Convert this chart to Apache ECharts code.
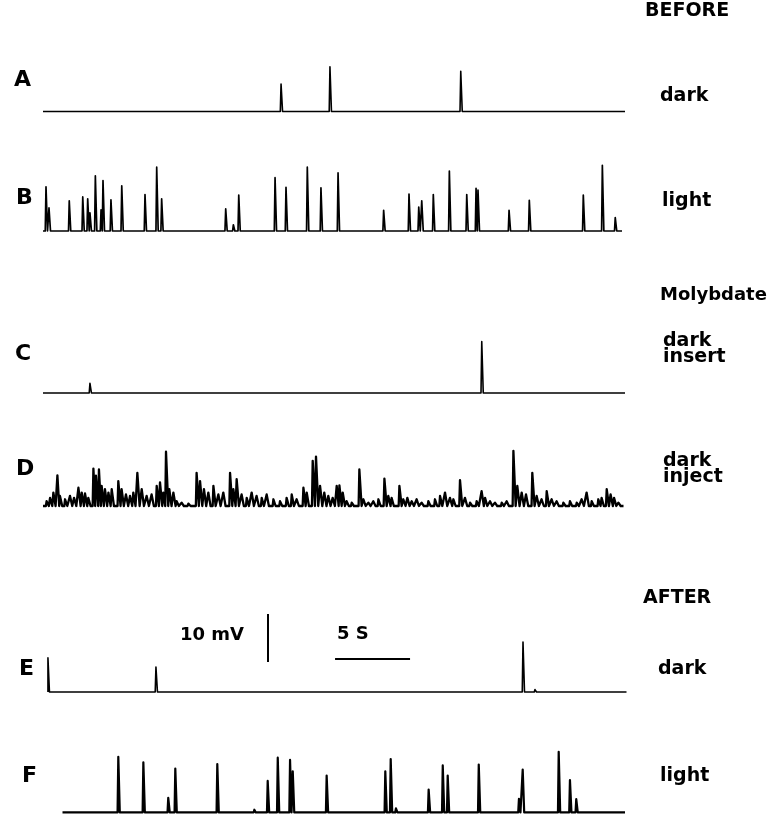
<!DOCTYPE html>
<html>
<head>
<meta charset="utf-8">
<script src="https://cdn.jsdelivr.net/npm/echarts@6/dist/echarts.min.js"></script>
<style>
  html, body { margin: 0; padding: 0; background: #fff; }
  #chart { width: 777px; height: 817px; }
</style>
</head>
<body>
<div id="chart"></div>
<script>
// time in s, amplitude in mV above baseline
var spanA = [0, 38.8];
var spikesA = [[15.87, 5.7], [19.13, 9.3], [27.85, 8.4]];

var spanB = [0, 38.6];
var spikesB = [
  [0.2, 9.2], [0.4, 4.8], [1.75, 6.3], [2.65, 7.1], [2.98, 6.7], [3.13, 3.8],
  [3.49, 11.5], [3.87, 4.4], [4.0, 10.5], [4.53, 6.5], [5.25, 9.4], [6.8, 7.6],
  [7.58, 13.3], [7.91, 6.7], [12.18, 4.6], [12.69, 1.3], [13.05, 7.5],
  [15.47, 11.1], [16.2, 9.1], [17.62, 13.3], [18.53, 9.0], [19.67, 12.1],
  [22.71, 4.3], [24.4, 7.7], [25.05, 5.0], [25.25, 6.3], [26.02, 7.6],
  [27.09, 12.5], [28.25, 7.6], [28.87, 8.9], [29.0, 8.5], [31.07, 4.3],
  [32.42, 6.4], [36.02, 7.5], [37.29, 13.7], [38.15, 2.8]
];

var spanC = [0, 38.8];
var spikesC = [[3.13, 2.0], [29.25, 10.7]];

var spanD = [0, 38.7];
var spikesD = [
  [0.24, 1.0], [0.47, 1.7], [0.69, 2.8], [0.96, 6.4], [1.13, 2.1], [1.47, 1.4],
  [1.8, 2.1], [2.07, 1.7], [2.36, 3.8], [2.58, 2.8], [2.8, 2.6], [3.02, 1.7],
  [3.36, 7.8], [3.53, 6.3], [3.73, 7.6], [3.91, 4.2], [4.13, 3.5], [4.36, 2.8],
  [4.58, 3.5], [5.02, 5.2], [5.24, 3.5], [5.53, 2.4], [5.8, 2.1], [6.02, 2.8],
  [6.29, 6.9], [6.58, 3.5], [6.91, 2.1], [7.24, 2.4], [7.58, 4.2], [7.8, 4.9],
  [8.02, 2.8], [8.2, 11.3], [8.42, 3.5], [8.69, 2.8], [8.91, 1.0], [9.24, 0.7],
  [9.69, 0.5], [10.24, 6.9], [10.47, 5.2], [10.73, 3.5], [11.02, 2.8],
  [11.36, 4.2], [11.69, 2.4], [12.02, 2.8], [12.47, 6.9], [12.69, 3.5],
  [12.91, 5.6], [13.24, 2.4], [13.58, 1.7], [13.91, 2.8], [14.24, 2.1],
  [14.58, 1.7], [14.91, 2.4], [15.36, 1.4], [15.8, 1.0], [16.24, 1.7],
  [16.58, 2.4], [16.91, 1.4], [17.36, 3.8], [17.58, 2.8], [17.98, 9.4],
  [18.2, 10.3], [18.47, 4.2], [18.75, 2.8], [19.02, 2.1], [19.31, 1.7],
  [19.58, 4.2], [19.76, 4.3], [19.98, 2.8], [20.24, 1.0], [20.58, 0.7],
  [21.09, 7.6], [21.36, 1.4], [21.69, 0.7], [22.02, 1.0], [22.36, 1.4],
  [22.76, 5.7], [23.02, 2.1], [23.24, 1.7], [23.76, 4.2], [24.02, 1.4],
  [24.29, 1.7], [24.58, 1.0], [24.91, 1.4], [25.24, 0.7], [25.69, 1.0],
  [26.13, 1.4], [26.47, 2.1], [26.8, 2.8], [27.13, 1.7], [27.36, 1.4],
  [27.8, 5.4], [28.13, 1.7], [28.47, 0.7], [28.91, 1.0], [29.24, 3.1],
  [29.47, 1.7], [29.8, 1.0], [30.13, 0.7], [30.58, 0.7], [30.91, 1.0],
  [31.36, 11.5], [31.62, 4.2], [31.91, 2.8], [32.2, 2.4], [32.62, 6.9],
  [32.91, 2.1], [33.24, 1.4], [33.58, 3.1], [33.91, 1.4], [34.24, 1.0],
  [34.69, 0.7], [35.13, 1.0], [35.58, 0.7], [35.91, 1.4], [36.24, 2.8],
  [36.58, 1.0], [37.02, 1.4], [37.24, 1.7], [37.58, 3.5], [37.84, 2.4],
  [38.07, 1.7], [38.36, 0.7]
];

var spanE = [0.33, 38.9];
var spikesE = [[0.33, 7.1], [7.53, 5.2], [19.1, 0.4], [32.0, 10.4], [32.8, 0.5]];

var spanF = [1.3, 38.8];
var spikesF = [
  [5.02, 12.2], [6.69, 11.0], [8.35, 3.2], [8.82, 9.6], [11.62, 10.6],
  [14.09, 0.6], [14.98, 6.9], [15.65, 12.0], [16.47, 11.5], [16.65, 9.0],
  [18.91, 8.1], [22.82, 9.0], [23.18, 11.7], [23.53, 0.9], [25.71, 5.0],
  [26.65, 10.3], [26.98, 8.1], [29.05, 10.5], [31.73, 3.0], [31.98, 9.4],
  [34.38, 13.3], [35.13, 7.1], [35.55, 2.9], [38.73, 0.3]
];

// calibration bars: 10 mV and 5 s
var barVolt = [[15.0, 0], [15.0, 10]];
var barTime = [[19.47, 0.6], [24.47, 0.6]];

var traces = [
  { name: "A", span: spanA, spikes: spikesA, base: 111.5, lw: 1.6 },
  { name: "B", span: spanB, spikes: spikesB, base: 231, lw: 1.7 },
  { name: "C", span: spanC, spikes: spikesC, base: 393, lw: 1.6 },
  { name: "D", span: spanD, spikes: spikesD, base: 506, lw: 2.3 },
  { name: "E", span: spanE, spikes: spikesE, base: 692, lw: 1.6 },
  { name: "F", span: spanF, spikes: spikesF, base: 816, lw: 2.2 }
];

function buildTrace(span, spikes, fall) {
  var pts = [[span[0], 0]];
  spikes.forEach(function (s) {
    if (s[0] - 0.05 > span[0]) pts.push([s[0] - 0.05, 0]);
    pts.push([s[0], s[1]]);
    pts.push([s[0] + fall, 0]);
  });
  pts.push([span[1], 0]);
  pts.sort(function (a, b) { return a[0] - b[0]; });
  return pts;
}

var grids = [], xAxes = [], yAxes = [], series = [];
function addGrid(base) {
  grids.push({ left: 43, width: 600, top: base - 72, height: 76.8 });
  var i = grids.length - 1;
  xAxes.push({ gridIndex: i, type: "value", min: 0, max: 40, show: false });
  yAxes.push({ gridIndex: i, type: "value", min: -1, max: 15, show: false });
  return i;
}

traces.forEach(function (t) {
  var i = addGrid(t.base);
  series.push({
    name: t.name,
    type: "line",
    xAxisIndex: i,
    yAxisIndex: i,
    data: buildTrace(t.span, t.spikes, t.name === "D" ? 0.15 : 0.1),
    showSymbol: false,
    animation: false,
    lineStyle: { color: "#000", width: t.lw, join: "round" }
  });
});

var gs = addGrid(662);
[barVolt, barTime].forEach(function (b) {
  series.push({
    type: "line",
    xAxisIndex: gs,
    yAxisIndex: gs,
    data: b,
    showSymbol: false,
    animation: false,
    lineStyle: { color: "#000", width: 2 }
  });
});

var font = "DejaVu Sans";
function txt(s, x, y, size) {
  return {
    type: "text",
    left: x,
    top: y - size * 0.6,
    style: { text: s, font: "bold " + size + "px '" + font + "'", fill: "#000" }
  };
}

var graphics = [
  txt("BEFORE", 645, 13, 19),
  txt("A", 14, 82, 22),
  txt("dark", 660, 98, 19),
  txt("B", 16, 200, 22),
  txt("light", 662, 203, 19),
  txt("Molybdate", 660, 297, 18),
  txt("C", 15, 356, 22),
  txt("dark", 663, 343, 19),
  txt("insert", 663, 359, 19),
  txt("D", 16, 471, 22),
  txt("dark", 663, 463, 19),
  txt("inject", 663, 479, 19),
  txt("10 mV", 180, 637, 18),
  txt("5 S", 337, 636, 18),
  txt("AFTER", 643, 600, 19),
  txt("E", 19, 671, 22),
  txt("dark", 658, 671, 19),
  txt("F", 22, 778, 22),
  txt("light", 660, 778, 19)
];

var chart = echarts.init(document.getElementById("chart"), null, { renderer: "canvas" });
chart.setOption({
  backgroundColor: "#fff",
  animation: false,
  grid: grids,
  xAxis: xAxes,
  yAxis: yAxes,
  series: series,
  graphic: graphics
});
</script>
</body>
</html>
